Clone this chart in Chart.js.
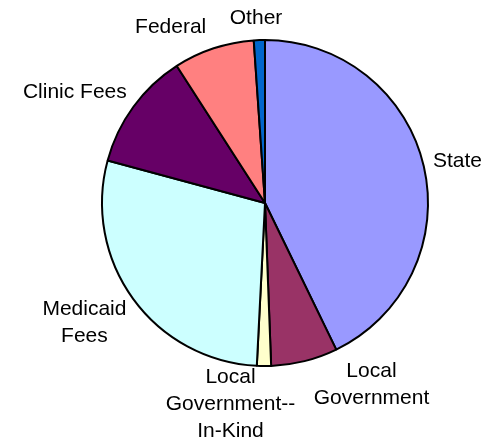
<!DOCTYPE html>
<html>
<head>
<meta charset="utf-8">
<script src="https://cdn.jsdelivr.net/npm/chart.js@4"></script>
<style>
  html, body { margin: 0; padding: 0; background: #fff; }
  #wrap { width: 484px; height: 440px; }
</style>
</head>
<body>
<div id="wrap"><canvas id="c" width="484" height="440"></canvas></div>
<script>
const categories = ["State", "Local Government", "Local Government--In-Kind", "Medicaid Fees", "Clinic Fees", "Federal", "Other"];
const shares = [42.8, 6.6, 1.4, 28.4, 11.7, 8.0, 1.1];
const labelLines = [["State"], ["Local", "Government"], ["Local", "Government--", "In-Kind"], ["Medicaid", "Fees"], ["Clinic Fees"], ["Federal"], ["Other"]];
const sliceColors = ["#9999FF", "#993366", "#FFFFCC", "#CCFFFF", "#660066", "#FF8080", "#0066CC"];

// nudges for label placement (px), like the hand-dragged labels in the original
const labelNudge = [[-2, 0], [50, -14], [-33, -14], [-5, 1], [-7, 0], [-28, 3], [-2, 4]];

const outsideLabels = {
  id: 'outsideLabels',
  afterDatasetsDraw(chart) {
    const ctx = chart.ctx;
    const meta = chart.getDatasetMeta(0);
    ctx.save();
    ctx.font = '21px "Liberation Sans", Arial, sans-serif';
    ctx.fillStyle = '#000';
    ctx.textAlign = 'center';
    ctx.textBaseline = 'middle';
    const lh = 27;
    meta.data.forEach((arc, i) => {
      const { x, y, startAngle, endAngle, outerRadius } = arc.getProps(['x', 'y', 'startAngle', 'endAngle', 'outerRadius'], true);
      const mid = (startAngle + endAngle) / 2;
      const c = Math.cos(mid), s = Math.sin(mid);
      const lines = labelLines[i];
      const w = Math.max(...lines.map(t => ctx.measureText(t).width));
      const h = lines.length * lh;
      const r = outerRadius + 12;
      const cx = x + r * c + (w / 2) * c + labelNudge[i][0];
      const cy = y + r * s + (h / 2) * s + labelNudge[i][1];
      lines.forEach((t, k) => {
        ctx.fillText(t, cx, cy - h / 2 + lh / 2 + k * lh);
      });
    });
    ctx.restore();
  }
};

new Chart(document.getElementById('c'), {
  type: 'pie',
  data: {
    labels: categories,
    datasets: [{
      data: shares,
      backgroundColor: sliceColors,
      borderColor: '#000',
      borderWidth: 2,
      borderAlign: 'center'
    }]
  },
  options: {
    responsive: false,
    animation: false,
    layout: { padding: { left: 101, right: 55, top: 39, bottom: 73 } },
    plugins: {
      legend: { display: false },
      tooltip: { enabled: false }
    }
  },
  plugins: [outsideLabels]
});
</script>
</body>
</html>
